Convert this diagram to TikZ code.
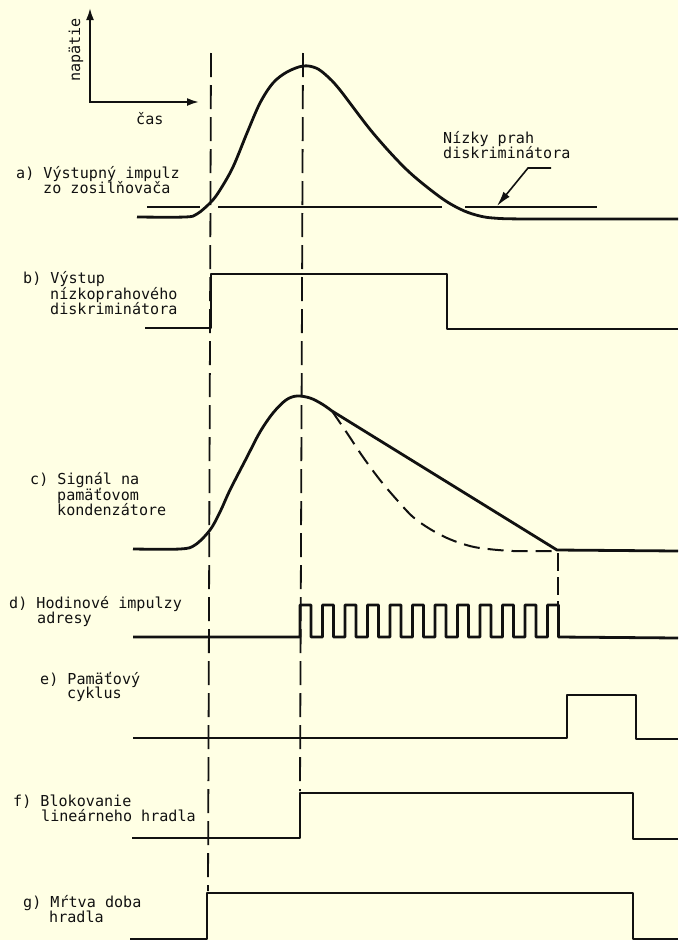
\documentclass[tikz,border=0pt]{standalone}
\usepackage{fontspec}
\setmonofont{DejaVu Sans Mono}
\usetikzlibrary{arrows.meta}
\definecolor{bg}{HTML}{FFFFE4}
\definecolor{ink}{HTML}{111111}
\begin{document}
\begin{tikzpicture}[x=1pt,y=-1pt,
  wave/.style={ink, line width=2.8pt, line join=round},
  guide/.style={ink, line width=1.8pt, dash pattern=on 24pt off 8pt},
  shortguide/.style={ink, line width=1.6pt, dash pattern=on 18pt off 6pt},
  decay/.style={ink, line width=2pt, dash pattern=on 16pt off 8pt},
  thr/.style={ink, line width=1.8pt},
  lbl/.style={anchor=base west, inner sep=0pt, font=\ttfamily\fontsize{15.1}{16}\selectfont, text=ink}]
\fill[bg] (0,0) rectangle (678,940);
\useasboundingbox (0,0) rectangle (678,940);

% axes
\coordinate (ytop) at (90,8);
\coordinate (orig) at (90,102);
\coordinate (xend) at (199,102);
\draw[ink, line width=2pt, {Latex[length=12pt,width=8pt]}-{Latex[length=12pt,width=8pt]}] (ytop) -- (orig) -- (xend);
\node[lbl] (cas) at (136,124) {čas};
\node[lbl, rotate=90] (nap) at (80,82) {napätie};

% guide lines
\draw[guide] (211,53) -- (208,891);
\draw[guide] (303,53) -- (300,791);
\draw[shortguide] (558,553) -- (558,604);

% a) amplifier pulse
\draw[wave] plot[smooth, tension=0.55] coordinates {(137,217) (185,217) (197,214) (211,202) (220,190) (233,167) (247,133) (260,103) (273,83) (287,72) (303,66) (316,68) (327,76) (340,90) (373,133) (407,170) (440,197) (460,209) (476,215) (493,218) (530,219) (678,219)};
\draw[thr] (147,207) -- (200,207);
\draw[thr] (218,207) -- (442,207);
\draw[thr] (465,207) -- (597,207);
\coordinate (ldr1) at (551,168);
\coordinate (ldr2) at (528,168);
\coordinate (ldr3) at (497,206);
\draw[ink, line width=1.6pt, -{Latex[length=15pt,width=8pt]}] (ldr1) -- (ldr2) -- (ldr3);
\node[lbl] (thrA) at (443,143) {Nízky prah};
\node[lbl] (thrB) at (443,158) {diskriminátora};
\node[lbl] (a1) at (16,178) {a) Výstupný impulz};
\node[lbl] (a2) at (43,193) {zo zosilňovača};

% b) discriminator output
\draw[wave] (145,328) -- (211,328) -- (211,274) -- (447,274) -- (447,329) -- (678,329);
\node[lbl] (b1) at (23,283) {b) Výstup};
\node[lbl] (b2) at (50,299) {nízkoprahového};
\node[lbl] (b3) at (50,314) {diskriminátora};

% c) memory capacitor
\draw[wave] plot[smooth, tension=0.55] coordinates {(133,549) (180,549) (195,545) (210,530) (220,512) (230,490) (247,457) (260,432) (273,413) (286,400) (297,396) (310,398) (322,404) (332,411)} -- (557,550) -- (678,551);
\draw[decay] plot[smooth, tension=0.55] coordinates {(332,411) (347,433) (363,457) (380,480) (397,500) (413,517) (430,529) (447,538) (463,544) (480,548) (513,551) (557,551)};
\node[lbl] (c1) at (30,484) {c) Signál na};
\node[lbl] (c2) at (57,500) {pamäťovom};
\node[lbl] (c3) at (57,515) {kondenzátore};

% d) clock pulses
\draw[wave] (133,637) foreach \k in {0,...,11} { -- ({300+22.5*\k},637) -- ({300+22.5*\k},605) -- ({311+22.5*\k},605) -- ({311+22.5*\k},637) } -- (678,638);
\node[lbl] (d1) at (9,608) {d) Hodinové impulzy};
\node[lbl] (d2) at (37,623) {adresy};

% e) memory cycle
\draw[wave] (133,738) -- (567,738) -- (567,695) -- (636,695) -- (636,739) -- (678,739);
\node[lbl] (e1) at (40,684) {e) Pamäťový};
\node[lbl] (e2) at (67,698) {cyklus};

% f) linear gate blocking
\draw[wave] (132,838) -- (300,838) -- (300,793) -- (633,793) -- (633,839) -- (678,839);
\node[lbl] (f1) at (13,806) {f) Blokovanie};
\node[lbl] (f2) at (41,821) {lineárneho hradla};

% g) dead time
\draw[wave] (130,939) -- (207,939) -- (207,893) -- (633,893) -- (633,939) -- (678,939);
\node[lbl] (g1) at (23,907) {g) Mŕtva doba};
\node[lbl] (g2) at (49,922) {hradla};
\end{tikzpicture}
\end{document}
